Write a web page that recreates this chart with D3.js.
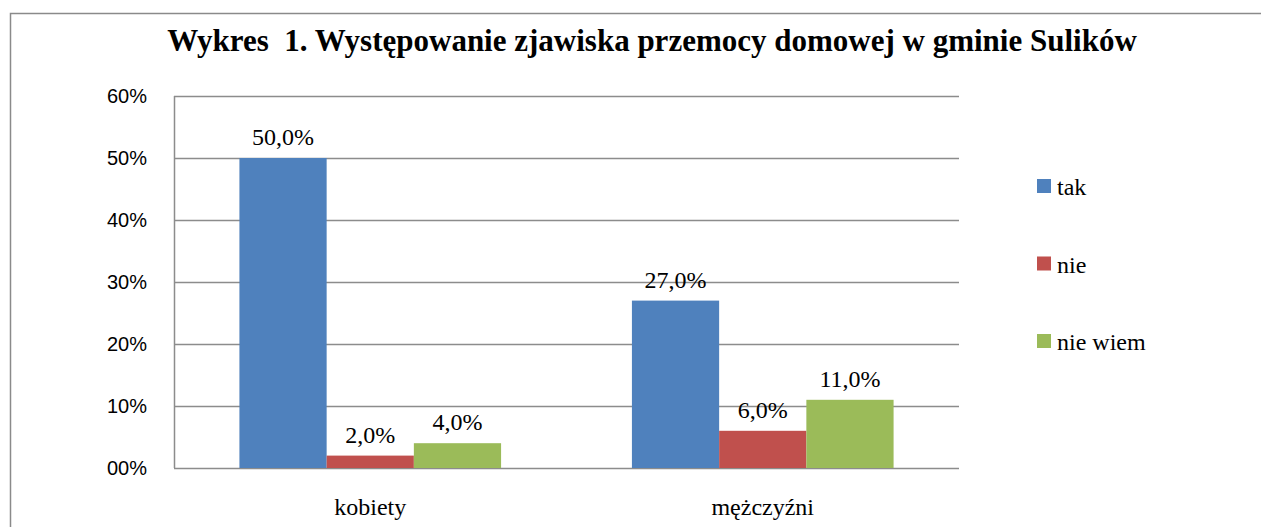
<!DOCTYPE html>
<html>
<head>
<meta charset="utf-8">
<script src="https://cdn.jsdelivr.net/npm/d3@7"></script>
<style>
body{margin:0;background:#fff;}
.serif{font-family:'Liberation Serif','Times New Roman',Times,'DejaVu Serif',serif;}
.sans{font-family:'Liberation Sans',Arial,'DejaVu Sans',sans-serif;}
</style>
</head>
<body>
<div id="chart"></div>
<script>
const categories = ['kobiety', 'mężczyźni'];
const seriesNames = ['tak', 'nie', 'nie wiem'];
const tak = [50, 27];
const nie = [2, 6];
const nieWiem = [4, 11];
const yTicks = [0, 10, 20, 30, 40, 50, 60];
const yTickLabels = ['00%', '10%', '20%', '30%', '40%', '50%', '60%'];
const colors = ['#4F81BD', '#C0504D', '#9BBB59'];

const width = 1261;
const height = 527;
const margin = {top: 96, bottom: 59, left: 174, right: 302};

const svg = d3.select('#chart')
  .append('svg')
  .attr('width', width)
  .attr('height', height);

// outer frame (cut off on the right and bottom)
svg.append('path')
  .attr('d', `M10.5,${height}V13.5H${width}`)
  .attr('fill', 'none')
  .attr('stroke', '#8a8a8a')
  .attr('stroke-width', 1.5);

svg.append('text')
  .attr('class', 'serif')
  .attr('x', 652)
  .attr('y', 51)
  .attr('text-anchor', 'middle')
  .style('font-weight', 'bold')
  .style('font-size', '31px')
  .style('white-space', 'pre')
  .text('Wykres  1. Występowanie zjawiska przemocy domowej w gminie Sulików');

const x0 = d3.scaleBand()
  .domain(categories)
  .range([margin.left, width - margin.right]);

const x1 = d3.scaleBand()
  .domain(seriesNames)
  .range([0, x0.bandwidth()])
  .paddingOuter(0.75);

const y = d3.scaleLinear()
  .domain([0, 60])
  .range([height - margin.bottom, margin.top]);

// grid lines
svg.append('g')
  .selectAll('line')
  .data(yTicks)
  .join('line')
    .attr('x1', margin.left)
    .attr('x2', width - margin.right)
    .attr('y1', d => Math.round(y(d)) + 0.5)
    .attr('y2', d => Math.round(y(d)) + 0.5)
    .attr('stroke', '#8c8c8c')
    .attr('stroke-width', 1.5);

svg.append('line')
  .attr('x1', margin.left + 0.5)
  .attr('x2', margin.left + 0.5)
  .attr('y1', y(60))
  .attr('y2', y(0))
  .attr('stroke', '#8c8c8c')
  .attr('stroke-width', 1.5);

// y labels
svg.append('g')
  .selectAll('text')
  .data(yTicks)
  .join('text')
    .attr('class', 'sans')
    .attr('x', 147)
    .attr('y', d => y(d) + 7)
    .attr('text-anchor', 'end')
    .style('font-size', '20px')
    .attr('fill', '#000')
    .text((d, i) => yTickLabels[i]);

const table = categories.map((c, i) => ({
  category: c,
  values: [tak[i], nie[i], nieWiem[i]].map((v, j) => ({series: seriesNames[j], value: v, color: colors[j]}))
}));

const groups = svg.append('g')
  .selectAll('g')
  .data(table)
  .join('g')
    .attr('transform', d => `translate(${x0(d.category)},0)`);

groups.selectAll('rect')
  .data(d => d.values)
  .join('rect')
    .attr('x', d => x1(d.series))
    .attr('y', d => y(d.value))
    .attr('width', x1.bandwidth())
    .attr('height', d => y(0) - y(d.value))
    .attr('fill', d => d.color);

groups.selectAll('text.val')
  .data(d => d.values)
  .join('text')
    .attr('class', 'val serif')
    .attr('x', d => x1(d.series) + x1.bandwidth() / 2)
    .attr('y', d => y(d.value) - 13)
    .attr('text-anchor', 'middle')
    .style('font-size', '24px')
    .text(d => d.value.toFixed(1).replace('.', ',') + '%');

// category labels
svg.append('g')
  .selectAll('text')
  .data(categories)
  .join('text')
    .attr('class', 'serif')
    .attr('x', d => x0(d) + x0.bandwidth() / 2)
    .attr('y', 515)
    .attr('text-anchor', 'middle')
    .style('font-size', '24px')
    .text(d => d);

// legend
const legend = svg.append('g')
  .selectAll('g')
  .data(seriesNames)
  .join('g')
    .attr('transform', (d, i) => `translate(1037,${179 + i * 77.5})`);

legend.append('rect')
  .attr('width', 14)
  .attr('height', 14)
  .attr('fill', (d, i) => colors[i]);

legend.append('text')
  .attr('class', 'serif')
  .attr('x', 20)
  .attr('y', 16)
  .style('font-size', '24px')
  .text(d => d);
</script>
</body>
</html>
